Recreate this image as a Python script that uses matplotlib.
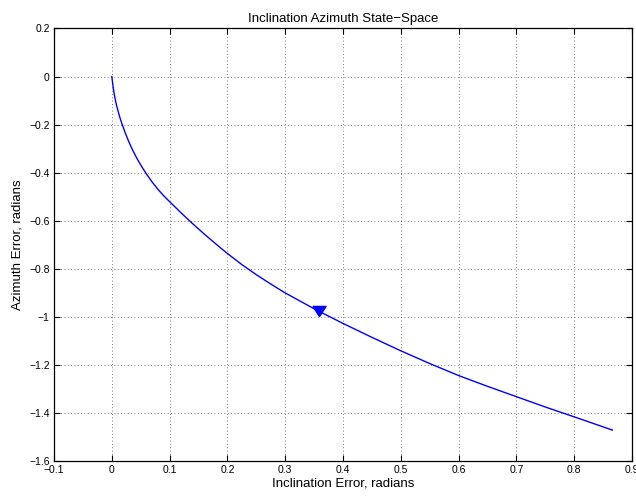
import matplotlib
matplotlib.use("Agg")
from matplotlib import pyplot as plt

# Trajectory in (inclination, azimuth) error space, radians
inclination = [0.0, 0.0025, 0.0052, 0.0080, 0.0110, 0.0140, 0.0179, 0.0230,
               0.0283, 0.0350, 0.0428, 0.0510, 0.0594, 0.070, 0.080, 0.090,
               0.100, 0.120, 0.140, 0.160, 0.180, 0.200, 0.225, 0.250,
               0.275, 0.300, 0.350, 0.400, 0.450, 0.500, 0.550, 0.600,
               0.650, 0.700, 0.750, 0.800, 0.866]
azimuth = [0.0, -0.047, -0.087, -0.118, -0.145, -0.171, -0.199, -0.233,
           -0.265, -0.301, -0.338, -0.372, -0.404, -0.440, -0.470, -0.497,
           -0.521, -0.568, -0.613, -0.656, -0.697, -0.737, -0.783, -0.825,
           -0.864, -0.901, -0.967, -1.028, -1.086, -1.142, -1.195, -1.245,
           -1.290, -1.333, -1.376, -1.417, -1.472]

# direction marker sits on the curve
arrow_x = 0.358
arrow_y = -0.977

x_ticks = [-0.1, 0, 0.1, 0.2, 0.3, 0.4, 0.5, 0.6, 0.7, 0.8, 0.9]
x_tick_labels = ["\u22120.1", "0", "0.1", "0.2", "0.3", "0.4", "0.5", "0.6", "0.7", "0.8", "0.9"]
y_ticks = [0.2, 0, -0.2, -0.4, -0.6, -0.8, -1.0, -1.2, -1.4, -1.6]
y_tick_labels = ["0.2", "0", "\u22120.2", "\u22120.4", "\u22120.6", "\u22120.8", "\u22121",
                 "\u22121.2", "\u22121.4", "\u22121.6"]

plt.rcParams["font.family"] = ["Liberation Sans", "DejaVu Sans"]

fig = plt.figure(figsize=(6.36, 4.98), dpi=100)
ax = fig.add_axes([54 / 636, 37.2 / 498, 578 / 636, 432.3 / 498])

ax.plot(inclination, azimuth, color="#0000ff", linewidth=1.0, solid_joinstyle="round")

tri = [(-0.65, 0.5), (0.65, 0.5), (0.0, -0.5), (-0.65, 0.5)]
ax.plot([arrow_x], [arrow_y], marker=tri, markersize=9.5, color="#0000ff",
        markeredgecolor="#0000ff", linestyle="none")

ax.set_xlim(-0.1, 0.9)
ax.set_ylim(-1.6, 0.2)
ax.set_xticks(x_ticks)
ax.set_xticklabels(x_tick_labels)
ax.set_yticks(y_ticks)
ax.set_yticklabels(y_tick_labels)

ax.tick_params(direction="in", length=4, width=0.8, top=True, right=True,
               labelsize=7.5, pad=3, colors="black")
for side in ax.spines.values():
    side.set_linewidth(0.9)

ax.grid(True, linestyle=(0, (1, 3)), color="#555555", linewidth=0.6)

ax.set_title("Inclination Azimuth State\u2212Space", fontsize=9.5, pad=5)
ax.set_xlabel("Inclination Error, radians", fontsize=9.5, labelpad=2)
ax.set_ylabel("Azimuth Error, radians", fontsize=9.5, labelpad=4)

fig.savefig("out.png", dpi=100)
